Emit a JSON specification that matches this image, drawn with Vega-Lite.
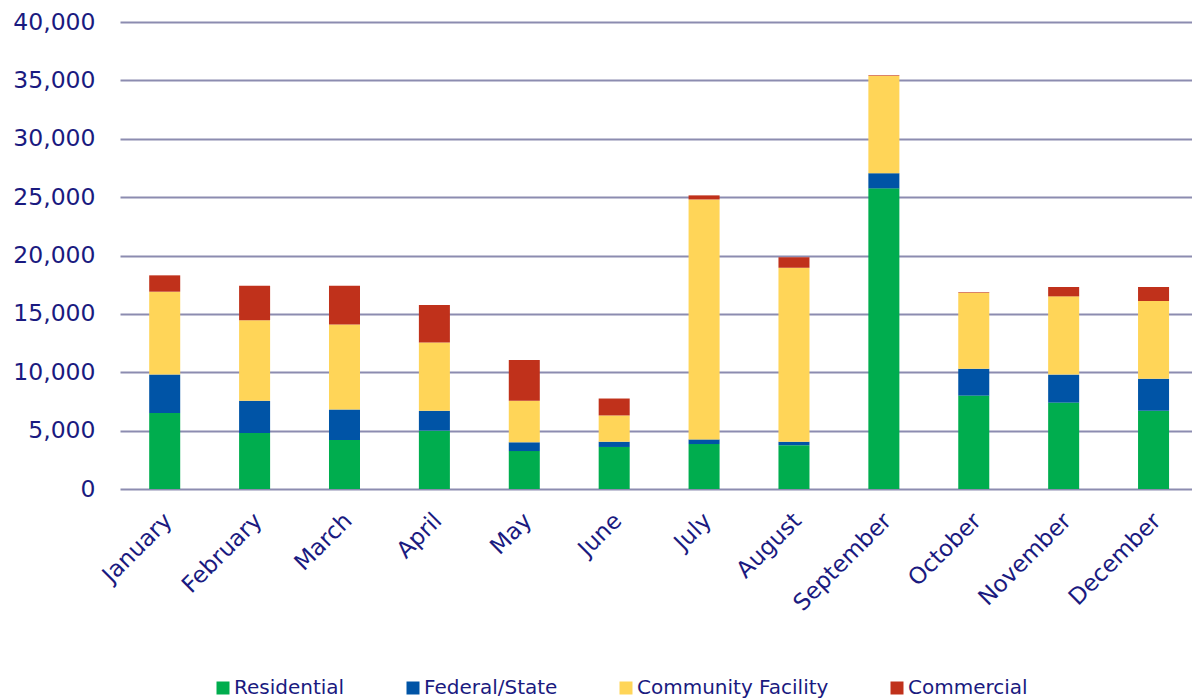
{
  "$schema": "https://vega.github.io/schema/vega-lite/v6.json",
  "width": 1072,
  "height": 467,
  "autosize": {"type": "none"},
  "padding": {"left": 120, "top": 22, "right": 0, "bottom": 210},
  "background": "white",
  "config": {
    "view": {"stroke": null},
    "font": "DejaVu Sans"
  },
  "data": {
    "values": [
      {"month": "January", "type": "Residential", "k": 1, "value": 6500},
      {"month": "January", "type": "Federal/State", "k": 2, "value": 3300},
      {"month": "January", "type": "Community Facility", "k": 3, "value": 7100},
      {"month": "January", "type": "Commercial", "k": 4, "value": 1400},
      {"month": "February", "type": "Residential", "k": 1, "value": 4800},
      {"month": "February", "type": "Federal/State", "k": 2, "value": 2750},
      {"month": "February", "type": "Community Facility", "k": 3, "value": 6900},
      {"month": "February", "type": "Commercial", "k": 4, "value": 2950},
      {"month": "March", "type": "Residential", "k": 1, "value": 4200},
      {"month": "March", "type": "Federal/State", "k": 2, "value": 2600},
      {"month": "March", "type": "Community Facility", "k": 3, "value": 7300},
      {"month": "March", "type": "Commercial", "k": 4, "value": 3300},
      {"month": "April", "type": "Residential", "k": 1, "value": 5000},
      {"month": "April", "type": "Federal/State", "k": 2, "value": 1700},
      {"month": "April", "type": "Community Facility", "k": 3, "value": 5850},
      {"month": "April", "type": "Commercial", "k": 4, "value": 3200},
      {"month": "May", "type": "Residential", "k": 1, "value": 3250},
      {"month": "May", "type": "Federal/State", "k": 2, "value": 750},
      {"month": "May", "type": "Community Facility", "k": 3, "value": 3550},
      {"month": "May", "type": "Commercial", "k": 4, "value": 3500},
      {"month": "June", "type": "Residential", "k": 1, "value": 3600},
      {"month": "June", "type": "Federal/State", "k": 2, "value": 450},
      {"month": "June", "type": "Community Facility", "k": 3, "value": 2250},
      {"month": "June", "type": "Commercial", "k": 4, "value": 1450},
      {"month": "July", "type": "Residential", "k": 1, "value": 3850},
      {"month": "July", "type": "Federal/State", "k": 2, "value": 400},
      {"month": "July", "type": "Community Facility", "k": 3, "value": 20550},
      {"month": "July", "type": "Commercial", "k": 4, "value": 350},
      {"month": "August", "type": "Residential", "k": 1, "value": 3750},
      {"month": "August", "type": "Federal/State", "k": 2, "value": 300},
      {"month": "August", "type": "Community Facility", "k": 3, "value": 14900},
      {"month": "August", "type": "Commercial", "k": 4, "value": 900},
      {"month": "September", "type": "Residential", "k": 1, "value": 25750},
      {"month": "September", "type": "Federal/State", "k": 2, "value": 1300},
      {"month": "September", "type": "Community Facility", "k": 3, "value": 8350},
      {"month": "September", "type": "Commercial", "k": 4, "value": 50},
      {"month": "October", "type": "Residential", "k": 1, "value": 8000},
      {"month": "October", "type": "Federal/State", "k": 2, "value": 2300},
      {"month": "October", "type": "Community Facility", "k": 3, "value": 6500},
      {"month": "October", "type": "Commercial", "k": 4, "value": 50},
      {"month": "November", "type": "Residential", "k": 1, "value": 7400},
      {"month": "November", "type": "Federal/State", "k": 2, "value": 2400},
      {"month": "November", "type": "Community Facility", "k": 3, "value": 6700},
      {"month": "November", "type": "Commercial", "k": 4, "value": 800},
      {"month": "December", "type": "Residential", "k": 1, "value": 6700},
      {"month": "December", "type": "Federal/State", "k": 2, "value": 2750},
      {"month": "December", "type": "Community Facility", "k": 3, "value": 6650},
      {"month": "December", "type": "Commercial", "k": 4, "value": 1200}
    ]
  },
  "mark": {"type": "bar"},
  "encoding": {
    "x": {
      "field": "month",
      "type": "nominal",
      "sort": null,
      "title": null,
      "scale": {"paddingInner": 0.655, "paddingOuter": 0.29, "align": 0.56},
      "axis": {
        "labelAngle": -45,
        "labelAlign": "right",
        "labelBaseline": "top",
        "labelPadding": 20,
        "labelOffset": -4,
        "labelFontSize": 23,
        "labelColor": "#1a1a80",
        "labelFont": "DejaVu Sans",
        "ticks": false,
        "domain": false,
        "grid": false
      }
    },
    "y": {
      "field": "value",
      "type": "quantitative",
      "stack": "zero",
      "title": null,
      "scale": {"domain": [0, 40000], "nice": false},
      "axis": {
        "values": [0, 5000, 10000, 15000, 20000, 25000, 30000, 35000, 40000],
        "format": ",d",
        "labelFontSize": 23.5,
        "labelColor": "#1a1a80",
        "labelFont": "DejaVu Sans",
        "labelPadding": 25,
        "ticks": false,
        "domain": false,
        "grid": true,
        "gridColor": "#8c8cb0",
        "gridWidth": 2
      }
    },
    "color": {
      "field": "type",
      "type": "nominal",
      "scale": {
        "domain": ["Residential", "Federal/State", "Community Facility", "Commercial"],
        "range": ["#00ad4e", "#0054a6", "#ffd558", "#c0311b"]
      },
      "legend": {
        "title": null,
        "orient": "none",
        "direction": "horizontal",
        "legendX": 93,
        "legendY": 656,
        "symbolType": "square",
        "symbolSize": 169,
        "symbolStrokeWidth": 0,
        "labelFontSize": 20,
        "labelFont": "DejaVu Sans",
        "labelColor": "#1a1a80",
        "labelOffset": 1,
        "columnPadding": 58,
        "labelLimit": 400
      }
    },
    "order": {"field": "k", "type": "quantitative"}
  }
}
